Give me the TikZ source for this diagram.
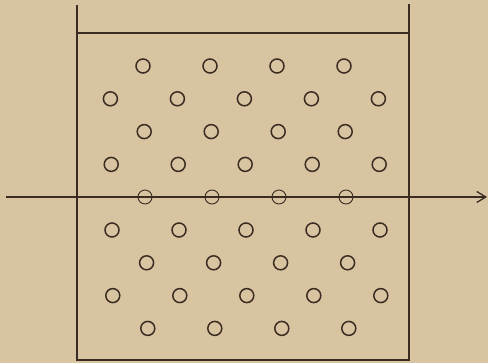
\documentclass[tikz,border=0pt]{standalone}
\usepackage{xcolor}
\usepackage{tikz}
\usetikzlibrary{arrows.meta}

\definecolor{paper}{RGB}{216,196,160}
\definecolor{ink}{RGB}{58,44,34}

\begin{document}
\begin{tikzpicture}[
    x=1pt, y=-1pt,
    particle/.style={circle, draw=ink, line width=1.5pt, minimum size=14pt, inner sep=0pt},
    thinparticle/.style={particle, line width=0.9pt},
    wall/.style={draw=ink, line width=1.8pt},
    ray/.style={draw=ink, line width=1.2pt, -{Straight Barb[length=9pt, width=11pt, line width=1.3pt]}}
]
\fill[paper] (0,0) rectangle (488,363);
\useasboundingbox (0,0) rectangle (488,363);

% vessel
\draw[wall] (77,5) -- (77,360) -- (409,360) -- (409,4);
\draw[wall, line width=1.5pt] (77,33) -- (409,33);

% ray through the middle row
\coordinate (rayin) at (6,197);
\coordinate (rayout) at (487,197);
\draw[ray] (rayin) -- (rayout);

% particles, rows of four and five in turn
\foreach \r in {1,3,7,9} {
  \foreach \c in {0,...,3} {
    \node[particle] (p\r-\c) at ({143+\c*67+(\r-1)*0.6}, {66+(\r-1)*32.8}) {};
  }
}
\foreach \r in {2,4,6,8} {
  \foreach \c in {0,...,4} {
    \node[particle] (p\r-\c) at ({110+\c*67+(\r-1)*0.4}, {66+(\r-1)*32.8}) {};
  }
}
\foreach \c in {0,...,3} {
  \node[thinparticle] (p5-\c) at ({145+\c*67}, 197) {};
}
\end{tikzpicture}
\end{document}
